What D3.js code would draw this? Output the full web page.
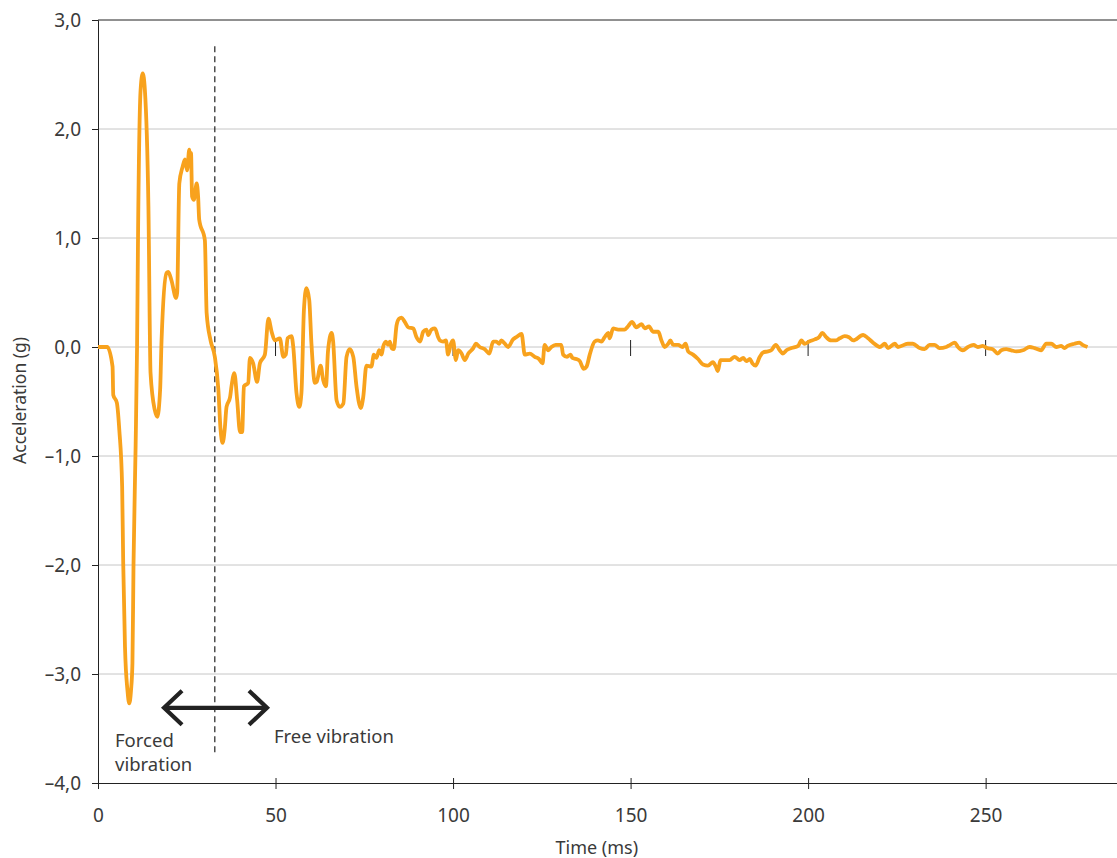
<!doctype html>
<html lang="en">
  <head>
    <meta charset="utf-8">
    <title>Acceleration vs time</title>
    <script src="https://d3js.org/d3.v7.min.js"></script>
    <style>
      body { margin: 0; background: #fff; }
      text { font-family: "Noto Sans", "Open Sans", sans-serif; fill: #3a3a3a; }
    </style>
  </head>
  <body>
    <div id="holder" class="visual"></div>
  <script>
      // data (time in ms, acceleration in g)
      const time = [0, 2.6, 4.1, 4.3, 5.3, 6.0, 6.8, 7.1, 7.6, 8.3, 8.8, 9.3, 9.7, 10.0, 10.6, 11.0, 11.3, 12.0, 12.6, 13.2, 14.2, 14.8, 16.0, 16.7, 17.5, 17.9, 19.3, 19.8, 20.7, 22.0, 22.3, 22.9, 23.8, 24.5, 25.1, 25.7, 25.9, 26.2, 26.5, 27.0, 27.8, 28.2, 28.5, 30.1, 30.6, 31.7, 32.9, 33.9, 34.5, 35.1, 35.7, 36.2, 37.2, 37.6, 38.4, 39.2, 40.0, 40.6, 41.1, 42.3, 42.8, 43.7, 44.8, 45.6, 47.0, 48.0, 48.9, 49.8, 51.2, 52.2, 52.9, 53.4, 54.5, 55.0, 55.9, 56.7, 57.3, 58.0, 58.7, 59.5, 60.1, 61.1, 61.6, 62.7, 63.4, 64.2, 64.8, 65.8, 66.2, 67.2, 68.1, 69.1, 70.0, 70.9, 71.9, 72.8, 74.0, 74.7, 75.6, 77.0, 77.7, 78.4, 79.2, 79.9, 80.3, 81.1, 81.7, 82.2, 82.7, 83.3, 84.1, 84.8, 85.5, 86.4, 87.4, 88.8, 89.7, 90.7, 91.6, 92.5, 93.0, 93.9, 94.9, 95.8, 96.3, 97.2, 98.0, 98.6, 99.4, 100.0, 100.8, 101.4, 102.4, 103.3, 104.3, 105.7, 106.4, 107.5, 108.9, 110.2, 111.3, 112.2, 113.0, 113.6, 114.6, 115.5, 116.9, 117.8, 119.3, 120.2, 121.6, 123.0, 124.2, 125.2, 125.8, 126.8, 127.7, 128.9, 130.5, 131.0, 132.1, 133.1, 133.6, 134.7, 135.7, 136.8, 137.6, 138.5, 139.9, 140.8, 141.8, 142.7, 143.7, 144.1, 145.1, 146.5, 148.3, 149.3, 150.4, 151.6, 153.1, 154.0, 155.2, 156.3, 157.8, 158.7, 159.6, 160.6, 161.2, 162.0, 163.4, 164.6, 165.5, 166.2, 167.6, 169.0, 170.4, 171.8, 173.2, 174.0, 174.6, 175.3, 176.5, 177.9, 179.3, 180.7, 181.7, 182.6, 183.6, 184.3, 185.2, 186.4, 187.3, 188.7, 189.6, 190.9, 192.0, 192.9, 193.9, 195.3, 197.2, 198.1, 199.0, 200.3, 201.9, 203.1, 204.0, 205.1, 206.5, 207.8, 208.9, 210.3, 211.5, 212.7, 215.5, 216.9, 218.3, 220.2, 221.6, 222.5, 224.4, 225.3, 228.1, 229.5, 231.4, 232.8, 234.2, 235.6, 237.0, 238.9, 240.0, 241.3, 242.2, 243.6, 245.0, 246.6, 247.8, 249.2, 250.4, 252.0, 253.4, 254.4, 255.8, 257.2, 258.6, 260.5, 262.4, 263.8, 265.6, 267.1, 268.5, 269.9, 271.3, 272.2, 273.1, 275.0, 276.4, 277.3, 278.7];
      const accel = [0, 0, -0.18, -0.44, -0.51, -0.76, -1.28, -1.98, -2.75, -3.15, -3.27, -3.15, -2.9, -2.0, -0.9, 0.0, 1.1, 2.36, 2.51, 2.36, 1.29, -0.24, -0.58, -0.64, -0.39, 0.06, 0.68, 0.69, 0.61, 0.45, 0.50, 1.5, 1.65, 1.72, 1.62, 1.81, 1.69, 1.78, 1.38, 1.35, 1.5, 1.38, 1.17, 0.98, 0.31, 0.06, -0.09, -0.39, -0.75, -0.88, -0.75, -0.55, -0.46, -0.36, -0.24, -0.49, -0.78, -0.78, -0.36, -0.33, -0.10, -0.15, -0.32, -0.15, -0.07, 0.26, 0.14, 0.06, 0.08, -0.09, -0.07, 0.08, 0.10, 0.0, -0.42, -0.55, -0.42, 0.34, 0.54, 0.43, 0.04, -0.33, -0.32, -0.17, -0.30, -0.36, -0.03, 0.13, 0.06, -0.49, -0.55, -0.52, -0.09, -0.02, -0.09, -0.36, -0.56, -0.46, -0.17, -0.18, -0.07, -0.10, -0.03, -0.07, 0, 0.05, 0.02, 0.05, -0.01, -0.02, 0.2, 0.26, 0.27, 0.23, 0.18, 0.17, 0.09, 0.05, 0.14, 0.16, 0.11, 0.16, 0.17, 0.09, 0.06, 0.05, 0.06, -0.07, 0.03, 0.06, -0.12, -0.03, -0.06, -0.12, -0.06, -0.01, 0.03, 0.0, -0.02, -0.06, 0.05, 0.05, 0.03, 0.06, 0.03, 0.0, 0.07, 0.09, 0.12, -0.07, -0.06, -0.09, -0.11, -0.15, 0.02, -0.03, 0, 0.02, 0.02, -0.07, -0.09, -0.07, -0.10, -0.11, -0.13, -0.2, -0.18, -0.07, 0.05, 0.06, 0.05, 0.09, 0.13, 0.08, 0.17, 0.16, 0.16, 0.19, 0.23, 0.18, 0.21, 0.17, 0.19, 0.14, 0.14, 0.06, 0, 0.03, 0.06, 0.02, 0.02, 0, 0.03, -0.04, -0.07, -0.11, -0.16, -0.17, -0.14, -0.18, -0.22, -0.12, -0.12, -0.12, -0.09, -0.12, -0.10, -0.13, -0.11, -0.15, -0.17, -0.09, -0.05, -0.04, -0.03, 0.02, -0.03, -0.06, -0.03, -0.01, 0.01, 0.06, 0.03, 0.05, 0.07, 0.09, 0.13, 0.09, 0.06, 0.06, 0.08, 0.10, 0.09, 0.06, 0.11, 0.08, 0.04, 0.0, 0.03, -0.01, 0.03, 0.0, 0.03, 0.03, -0.01, -0.02, 0.02, 0.02, -0.01, 0, 0.02, 0.04, 0, -0.03, 0, 0.02, 0, 0.01, -0.01, -0.02, -0.06, -0.03, -0.02, -0.03, -0.04, -0.03, 0, -0.01, -0.03, 0.03, 0.03, 0, 0.01, -0.01, 0.01, 0.03, 0.04, 0.02, 0];

      const xTicks = [0, 50, 100, 150, 200, 250];
      const yTicks = [3, 2, 1, 0, -1, -2, -3, -4];
      const boundary = 32.9;         // forced / free vibration split (ms)
      const arrowSpan = [18.6, 47.6]; // double arrow, ms
      const arrowLevel = -3.31;

      const w = 1117, h = 858;
      const margin = {top: 20, right: 0, bottom: 75, left: 98};

      const x = d3.scaleLinear().domain([0, 287]).range([margin.left, w - margin.right]);
      const y = d3.scaleLinear().domain([-4, 3]).range([h - margin.bottom, margin.top]);

      const fmt = d => (d < 0 ? '\u2013' : '') + Math.abs(d).toFixed(1).replace('.', ',');

      const svg = d3.select('.visual')
          .append('svg')
          .attr('width', w)
          .attr('height', h);

      // horizontal grid
      svg.append('g')
          .selectAll('line')
          .data(yTicks.filter(d => d > -4 && d < 3))
          .enter().append('line')
          .attr('x1', x(0)).attr('x2', w)
          .attr('y1', d => y(d)).attr('y2', d => y(d))
          .attr('stroke', '#c6c6c6')
          .attr('stroke-width', 1);

      // top frame line
      svg.append('line')
          .attr('x1', x(0)).attr('x2', w)
          .attr('y1', y(3)).attr('y2', y(3))
          .attr('stroke', '#222').attr('stroke-width', 1);

      // y axis
      const yAxis = d3.axisLeft(y).tickValues(yTicks).tickFormat(fmt).tickSize(6).tickPadding(11);
      const gy = svg.append('g')
          .attr('transform', 'translate(' + x(0) + ',0)')
          .call(yAxis);
      gy.select('.domain').attr('stroke', '#222');
      gy.selectAll('.tick line').attr('stroke', '#222');
      gy.selectAll('.tick text').style('font-size', '19px').attr('fill', '#3a3a3a');

      // x axis
      const xAxis = d3.axisBottom(x).tickValues(xTicks).tickSize(6).tickPadding(20);
      const gx = svg.append('g')
          .attr('transform', 'translate(0,' + y(-4) + ')')
          .call(xAxis);
      gx.select('.domain').attr('d', 'M' + (x(0) - 6) + ',0.5H' + w).attr('stroke', '#222');
      gx.selectAll('.tick line').attr('y1', -5).attr('y2', 6).attr('stroke', '#222');
      gx.selectAll('.tick text').style('font-size', '19px').attr('fill', '#3a3a3a');

      // small ticks on the zero line
      svg.append('g')
          .selectAll('line')
          .data(xTicks.filter(d => d > 0))
          .enter().append('line')
          .attr('x1', d => x(d)).attr('x2', d => x(d))
          .attr('y1', y(0) - 7).attr('y2', y(0) + 9)
          .attr('stroke', '#222').attr('stroke-width', 1);

      // axis titles
      svg.append('text')
          .text('Time (ms)')
          .attr('x', x(140.5))
          .attr('y', 854)
          .attr('text-anchor', 'middle')
          .style('font-size', '18px');

      svg.append('text')
          .text('Acceleration (g)')
          .attr('transform', 'translate(26,' + y(-0.49) + ') rotate(-90)')
          .attr('text-anchor', 'middle')
          .style('font-size', '17.5px');

      // dashed boundary
      svg.append('line')
          .attr('x1', x(boundary)).attr('x2', x(boundary))
          .attr('y1', y(2.76)).attr('y2', y(-3.73))
          .attr('stroke', '#222')
          .attr('stroke-width', 1.2)
          .attr('stroke-dasharray', '6,4');

      // signal
      const line = d3.line()
          .x((d, i) => x(time[i]))
          .y(d => y(d))
          .curve(d3.curveMonotoneX);

      svg.append('path')
          .datum(accel)
          .attr('d', line)
          .attr('fill', 'none')
          .attr('stroke', '#f8a21d')
          .attr('stroke-width', 3.8)
          .attr('stroke-linejoin', 'round');

      // double arrow
      const ax0 = x(arrowSpan[0]), ax1 = x(arrowSpan[1]), ay = y(arrowLevel);
      const arrow = svg.append('g')
          .attr('fill', 'none')
          .attr('stroke', '#222')
          .attr('stroke-width', 4.2);
      arrow.append('line').attr('x1', ax0 + 2).attr('x2', ax1 - 2).attr('y1', ay).attr('y2', ay);
      arrow.append('path').attr('d', 'M' + (ax0 + 18) + ',' + (ay - 17) + 'L' + ax0 + ',' + ay + 'L' + (ax0 + 18) + ',' + (ay + 17));
      arrow.append('path').attr('d', 'M' + (ax1 - 18) + ',' + (ay - 17) + 'L' + ax1 + ',' + ay + 'L' + (ax1 - 18) + ',' + (ay + 17));

      // annotations
      svg.append('text')
          .attr('x', 115).attr('y', 747)
          .style('font-size', '18.5px')
          .selectAll('tspan')
          .data(['Forced', 'vibration'])
          .enter().append('tspan')
          .attr('x', 115)
          .attr('dy', (d, i) => i ? 24 : 0)
          .text(d => d);

      svg.append('text')
          .text('Free vibration')
          .attr('x', 274).attr('y', 743)
          .style('font-size', '18.5px');
  </script>
  </body>
</html>
